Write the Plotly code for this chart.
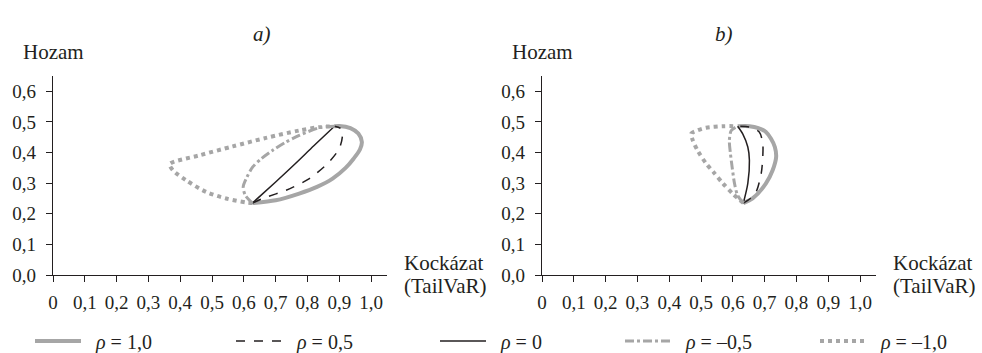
import plotly.graph_objects as go

# ---------------- data ----------------
rho_labels = ["\u2002<i>ρ</i> = 1,0", "\u2002<i>ρ</i> = 0,5", "\u2002<i>ρ</i> = 0",
              "\u2002<i>ρ</i> = –0,5", "\u2002<i>ρ</i> = –1,0"]

# panel a)
a_rho1_x = [0.627, 0.700, 0.774, 0.830, 0.879, 0.920, 0.945, 0.965, 0.971, 0.960, 0.935, 0.900, 0.885]
a_rho1_y = [0.235, 0.244, 0.266, 0.288, 0.315, 0.350, 0.380, 0.410, 0.435, 0.462, 0.480, 0.487, 0.486]
a_rho05_x = [0.627, 0.659, 0.733, 0.806, 0.863, 0.900, 0.910, 0.905, 0.885]
a_rho05_y = [0.235, 0.250, 0.277, 0.315, 0.364, 0.413, 0.456, 0.478, 0.486]
a_rho0_x = [0.627, 0.700, 0.759, 0.820, 0.885]
a_rho0_y = [0.235, 0.304, 0.361, 0.422, 0.486]
a_rhom05_x = [0.627, 0.605, 0.598, 0.610, 0.628, 0.655, 0.690, 0.730, 0.774, 0.837, 0.885]
a_rhom05_y = [0.235, 0.260, 0.288, 0.320, 0.353, 0.380, 0.407, 0.433, 0.456, 0.481, 0.486]
a_rhom1_x = [0.627, 0.607, 0.544, 0.482, 0.419, 0.377, 0.367, 0.461, 0.565, 0.670, 0.774, 0.837, 0.885]
a_rhom1_y = [0.235, 0.237, 0.250, 0.271, 0.309, 0.342, 0.362, 0.391, 0.420, 0.448, 0.472, 0.483, 0.486]

# panel b)
b_rho1_x = [0.633, 0.662, 0.704, 0.725, 0.736, 0.732, 0.720, 0.704, 0.680, 0.652, 0.615]
b_rho1_y = [0.235, 0.250, 0.299, 0.342, 0.385, 0.418, 0.445, 0.467, 0.480, 0.486, 0.486]
b_rho05_x = [0.633, 0.655, 0.673, 0.689, 0.694, 0.694, 0.683, 0.652, 0.615]
b_rho05_y = [0.235, 0.250, 0.271, 0.331, 0.385, 0.429, 0.467, 0.483, 0.486]
b_rho0_x = [0.633, 0.647, 0.652, 0.647, 0.631, 0.615]
b_rho0_y = [0.235, 0.299, 0.375, 0.418, 0.461, 0.486]
b_rhom05_x = [0.633, 0.615, 0.605, 0.598, 0.592, 0.589, 0.595, 0.615]
b_rhom05_y = [0.235, 0.260, 0.300, 0.350, 0.400, 0.440, 0.472, 0.486]
b_rhom1_x = [0.633, 0.600, 0.568, 0.540, 0.516, 0.490, 0.474, 0.469, 0.490, 0.516, 0.568, 0.615]
b_rhom1_y = [0.235, 0.265, 0.300, 0.335, 0.364, 0.405, 0.440, 0.462, 0.473, 0.481, 0.486, 0.486]

x_tick_vals = [0, 0.1, 0.2, 0.3, 0.4, 0.5, 0.6, 0.7, 0.8, 0.9, 1.0]
x_tick_text = ["0", "0,1", "0,2", "0,3", "0,4", "0,5", "0,6", "0,7", "0,8", "0,9", "1,0"]
y_tick_vals = [0, 0.1, 0.2, 0.3, 0.4, 0.5, 0.6]
y_tick_text = ["0,0", "0,1", "0,2", "0,3", "0,4", "0,5", "0,6"]

panel_titles = ["a)", "b)"]
y_title = "Hozam"
x_title_lines = ["Kockázat", "(TailVaR)"]

# ---------------- styling ----------------
FONT = "Liberation Serif"
INK = "#231f20"
GRAY = "#a6a6a6"
styles = [
    dict(color=GRAY, width=4, dash="solid"),
    dict(color=INK, width=1.5, dash="dash"),
    dict(color=INK, width=1.5, dash="solid"),
    dict(color=GRAY, width=3, dash="dashdot"),
    dict(color=GRAY, width=4, dash="dot"),
]

panels = [
    ("x", "y", [(a_rho1_x, a_rho1_y), (a_rho05_x, a_rho05_y), (a_rho0_x, a_rho0_y),
                (a_rhom05_x, a_rhom05_y), (a_rhom1_x, a_rhom1_y)]),
    ("x2", "y2", [(b_rho1_x, b_rho1_y), (b_rho05_x, b_rho05_y), (b_rho0_x, b_rho0_y),
                  (b_rhom05_x, b_rhom05_y), (b_rhom1_x, b_rhom1_y)]),
]
legend_ids = ["legend", "legend2", "legend3", "legend4", "legend5"]

fig = go.Figure()
for p, (xa, ya, series) in enumerate(panels):
    for i, (xs, ys) in enumerate(series):
        fig.add_trace(go.Scatter(
            x=xs, y=ys, mode="lines", xaxis=xa, yaxis=ya,
            line=dict(shape="spline", smoothing=0.8, **styles[i]),
            name=rho_labels[i], showlegend=(p == 0), legend=legend_ids[i],
            hoverinfo="skip",
        ))

axis_common = dict(
    showgrid=False, zeroline=False, showline=True, linecolor=INK, linewidth=1.3,
    ticks="outside", ticklen=6, tickwidth=1.3, tickcolor=INK,
    tickfont=dict(family=FONT, size=19, color=INK), fixedrange=True,
)
xdom = [[0, 0.4058], [0.5942, 1.0]]
for k in range(2):
    sx = "" if k == 0 else "2"
    fig.layout["xaxis" + sx] = dict(
        domain=xdom[k], range=[0, 1.05], anchor="y" + sx,
        tickvals=x_tick_vals, ticktext=x_tick_text, ticklabelstandoff=4, **axis_common)
    fig.layout["yaxis" + sx] = dict(
        domain=[0, 1], range=[0, 0.65], anchor="x" + sx,
        tickvals=y_tick_vals, ticktext=y_tick_text, ticklabelstandoff=6, **axis_common)

W, H = 982, 353
ml, mr, mt, mb = 53, 106, 76, 78
pw, ph = W - ml - mr, H - mt - mb
def px(xp):
    return (xp - ml) / pw
def py(yp):
    return (H - mb - yp) / ph

annotations = []
title_x = [251, 735]
hozam_x = [53, 542]
kock_x = [402, 891]
kock_y = [263, 286]
for k in range(2):
    annotations.append(dict(text="<i>" + panel_titles[k] + "</i>", x=px(title_x[k]), y=py(20),
                            xref="paper", yref="paper", showarrow=False,
                            font=dict(family=FONT, size=21, color=INK)))
    annotations.append(dict(text=y_title, x=px(hozam_x[k]), y=py(52),
                            xref="paper", yref="paper", showarrow=False,
                            xanchor="center", yanchor="middle",
                            font=dict(family=FONT, size=21, color=INK)))
    for j, line in enumerate(x_title_lines):
        annotations.append(dict(text=line, x=px(kock_x[k]), y=py(kock_y[j]),
                                xref="paper", yref="paper", showarrow=False,
                                xanchor="left", yanchor="middle", align="left",
                                font=dict(family=FONT, size=21, color=INK)))

fig.update_layout(
    width=W, height=H,
    margin=dict(l=ml, r=mr, t=mt, b=mb, pad=0, autoexpand=False),
    paper_bgcolor="white", plot_bgcolor="white",
    font=dict(family=FONT, size=19, color=INK),
    annotations=annotations,
)
legend_left = [30, 231, 435, 620, 815]
for i, lid in enumerate(legend_ids):
    fig.layout[lid] = dict(orientation="h", x=px(legend_left[i]), y=py(341),
                           xanchor="left", yanchor="middle", itemwidth=46,
                           font=dict(family=FONT, size=20, color=INK),
                           bgcolor="rgba(0,0,0,0)")

fig.write_html("out.html", post_script="document.body.style.margin='0px';",
               config={"displayModeBar": False})
